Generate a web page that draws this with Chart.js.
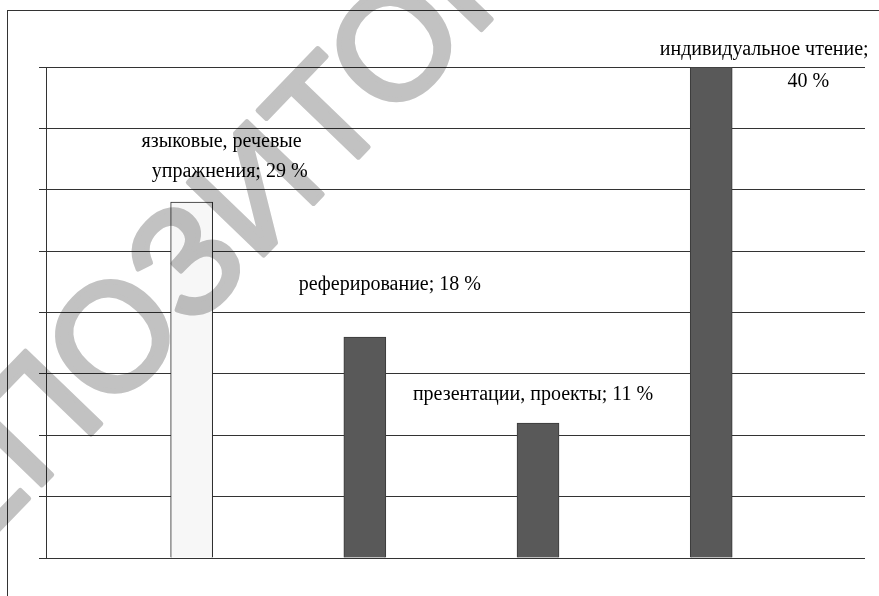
<!DOCTYPE html>
<html>
<head>
<meta charset="utf-8">
<script src="https://cdn.jsdelivr.net/npm/chart.js@4"></script>
<style>
  html, body { margin: 0; padding: 0; background: #fff; }
  canvas { display: block; }
</style>
</head>
<body>
<canvas id="myChart" width="879" height="596"></canvas>
<script>
const categories = ['языковые, речевые упражнения', 'реферирование', 'презентации, проекты', 'индивидуальное чтение'];
const values = [29, 18, 11, 40];
const yTicks = [0, 5, 10, 15, 20, 25, 30, 35, 40];
const breakAfterWord = [2, null, null, 2];

// label placement relative to bar centre / bar top, px
const labelOffsets = [
  [[30, -60], [38, -30]],
  [[25, -52]],
  [[-5, -28]],
  [[53, -17], [97, 15]]
];

const frame = {
  id: 'frame',
  beforeDraw(chart) {
    const c = chart.ctx;
    c.save();
    c.strokeStyle = '#333';
    c.lineWidth = 1;
    c.strokeRect(7.5, 10.5, 900, 700);
    c.restore();
  }
};

const barLabels = {
  id: 'barLabels',
  afterDatasetsDraw(chart) {
    const c = chart.ctx;
    const meta = chart.getDatasetMeta(0);
    c.save();
    c.font = '20px "Liberation Serif", "Times New Roman", serif';
    c.fillStyle = '#000';
    c.textAlign = 'center';
    c.textBaseline = 'middle';
    meta.data.forEach((bar, i) => {
      const words = (categories[i] + '; ' + values[i] + ' %').split(' ');
      const k = breakAfterWord[i];
      const lines = k ? [words.slice(0, k).join(' '), words.slice(k).join(' ')] : [words.join(' ')];
      lines.forEach((t, j) => {
        const [dx, dy] = labelOffsets[i][j];
        c.fillText(t, bar.x + dx, bar.y + dy);
      });
    });
    c.restore();
  }
};

// grey watermark, multiplied over the finished chart
const watermark = {
  id: 'watermark',
  afterDraw(chart) {
    const dpr = chart.currentDevicePixelRatio || 1;
    const off = document.createElement('canvas');
    off.width = chart.width * dpr;
    off.height = chart.height * dpr;
    const o = off.getContext('2d');
    o.scale(dpr, dpr);
    o.font = '152px "Liberation Sans", Arial, sans-serif';
    o.fillStyle = '#c2c2c2';
    o.strokeStyle = '#c2c2c2';
    o.lineWidth = 5;
    o.lineJoin = 'round';
    o.textBaseline = 'middle';
    const word = 'РЕПОЗИТОРИЙ';
    const a = -46 * Math.PI / 180;
    const d = o.measureText('РЕПО').width + o.measureText('З').width / 2;
    const cx = 193, cy = 268;
    o.translate(cx - d * Math.cos(a), cy - d * Math.sin(a));
    o.rotate(a);
    o.fillText(word, 0, 0);
    o.strokeText(word, 0, 0);

    const c = chart.ctx;
    c.save();
    c.globalCompositeOperation = 'multiply';
    c.drawImage(off, 0, 0, chart.width, chart.height);
    c.restore();
  }
};

const ctx = document.getElementById('myChart').getContext('2d');

new Chart(ctx, {
  type: 'bar',
  data: {
    datasets: [{
      data: values.map((v, i) => ({ x: i, y: v })),
      backgroundColor: ['#f7f7f7', '#595959', '#595959', '#595959'],
      borderColor: ['#2a2a2a', '#3a3a3a', '#3a3a3a', '#3a3a3a'],
      borderWidth: 1,
      barThickness: 42
    }]
  },
  options: {
    responsive: false,
    animation: false,
    layout: { padding: { left: 39, right: 14, top: 67, bottom: 38 } },
    plugins: {
      legend: { display: false },
      tooltip: { enabled: false }
    },
    scales: {
      x: {
        type: 'linear',
        display: false,
        offset: false,
        min: -0.841,
        max: 3.888
      },
      y: {
        min: 0,
        max: 40,
        afterBuildTicks: s => { s.ticks = yTicks.map(v => ({ value: v })); },
        grid: { color: '#333', lineWidth: 1, drawTicks: true, tickLength: 7, tickColor: '#333' },
        border: { color: '#333', width: 1 },
        ticks: { display: false }
      }
    }
  },
  plugins: [frame, barLabels, watermark]
});
</script>
</body>
</html>
